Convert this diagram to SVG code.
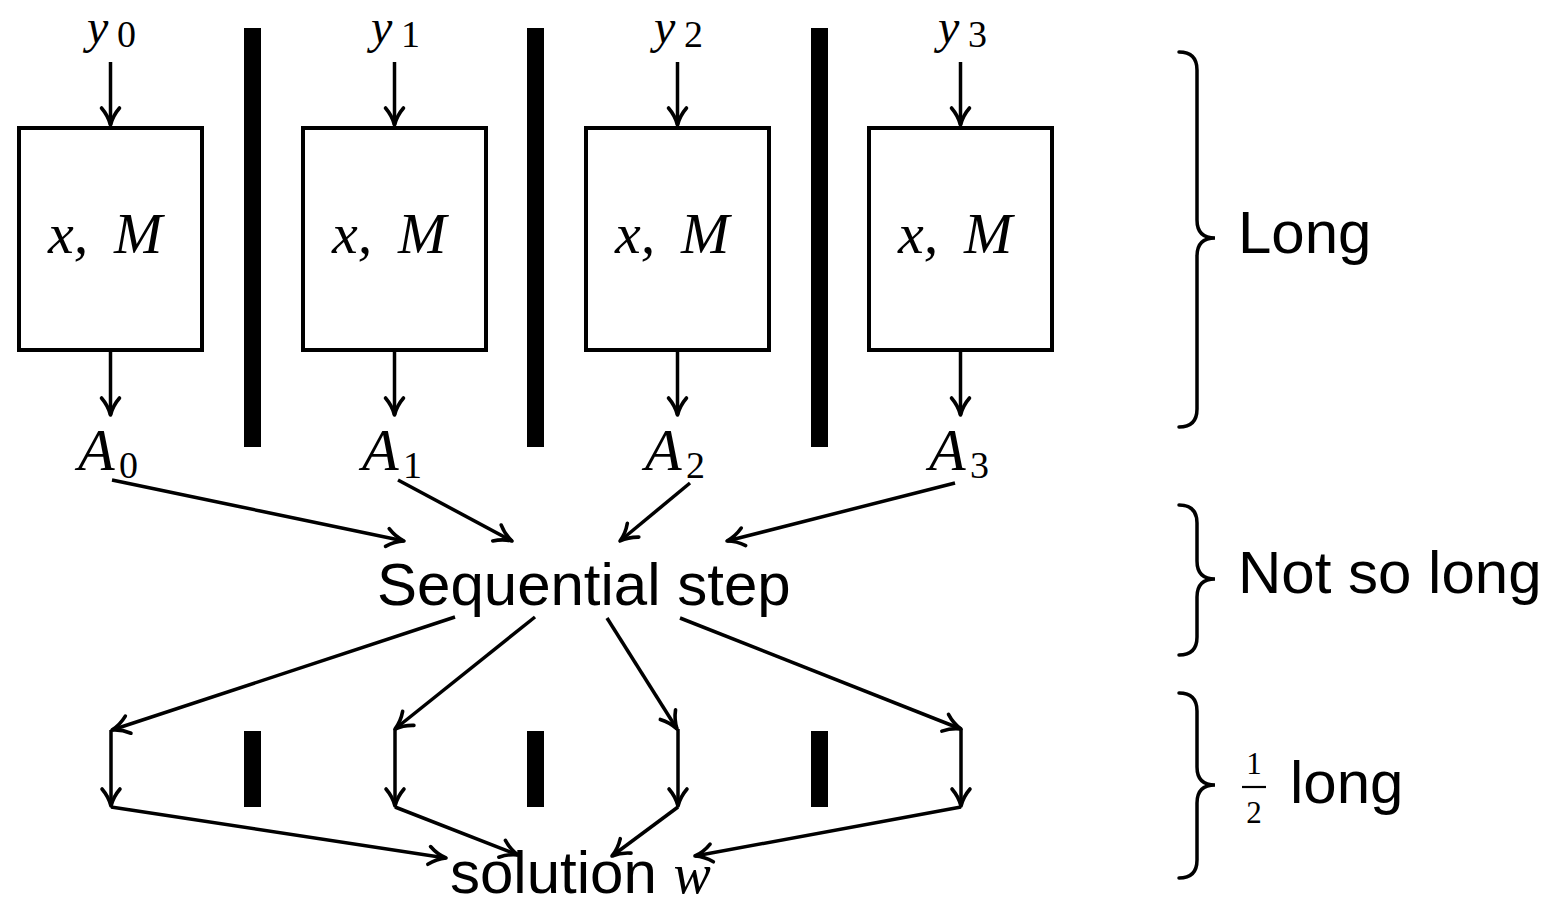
<svg xmlns="http://www.w3.org/2000/svg" width="1562" height="906" viewBox="0 0 1562 906">
<style>
.box{fill:#fff;stroke:#000;stroke-width:4}
.bar{fill:#000}
.c{fill:none;stroke:#000;stroke-width:3.5}
.br{fill:none;stroke:#000;stroke-width:3.5;stroke-linecap:round}
.m{font-family:"Liberation Serif",serif;font-style:italic;fill:#000}
.d{font-family:"Liberation Serif",serif;fill:#000}
.s{font-family:"Liberation Sans",Arial,sans-serif;font-size:60px;fill:#000}
</style>
<defs>
<marker id="ah" markerUnits="userSpaceOnUse" markerWidth="26" markerHeight="26" viewBox="-20 -13 26 26" refX="0" refY="0" orient="auto">
<path d="M-17,-9 C-10,-3 -4,-1 0,0 C-4,1 -10,3 -17,9" fill="none" stroke="#000" stroke-width="3.6" stroke-linecap="round" stroke-linejoin="round"/>
</marker>
</defs>
<rect width="1562" height="906" fill="#fff"/>
<g id="barriers">
<rect class="bar" x="244" y="28" width="17" height="419"/>
<rect class="bar" x="527" y="28" width="17" height="419"/>
<rect class="bar" x="811" y="28" width="17" height="419"/>
<rect class="bar" x="244" y="731" width="17" height="76"/>
<rect class="bar" x="527" y="731" width="17" height="76"/>
<rect class="bar" x="811" y="731" width="17" height="76"/>
</g>
<g id="inputs">
<text class="m" x="87" y="43" font-size="48">y</text><text class="d" x="117" y="47" font-size="38">0</text>
<text class="m" x="371" y="43" font-size="48">y</text><text class="d" x="401" y="47" font-size="38">1</text>
<text class="m" x="654" y="43" font-size="48">y</text><text class="d" x="684" y="47" font-size="38">2</text>
<text class="m" x="938" y="43" font-size="48">y</text><text class="d" x="968" y="47" font-size="38">3</text>
</g>
<g id="box0"><rect class="box" x="19" y="128" width="183" height="222"/><text class="m" x="48" y="253" font-size="58">x,</text><text class="m" x="114" y="253" font-size="58">M</text></g>
<g id="box1"><rect class="box" x="303" y="128" width="183" height="222"/><text class="m" x="332" y="253" font-size="58">x,</text><text class="m" x="398" y="253" font-size="58">M</text></g>
<g id="box2"><rect class="box" x="586" y="128" width="183" height="222"/><text class="m" x="615" y="253" font-size="58">x,</text><text class="m" x="681" y="253" font-size="58">M</text></g>
<g id="box3"><rect class="box" x="869" y="128" width="183" height="222"/><text class="m" x="898" y="253" font-size="58">x,</text><text class="m" x="964" y="253" font-size="58">M</text></g>
<g id="outputs">
<text class="m" x="78" y="470" font-size="60">A</text><text class="d" x="119" y="478" font-size="38">0</text>
<text class="m" x="362" y="470" font-size="60">A</text><text class="d" x="403" y="478" font-size="38">1</text>
<text class="m" x="645" y="470" font-size="60">A</text><text class="d" x="686" y="478" font-size="38">2</text>
<text class="m" x="929" y="470" font-size="60">A</text><text class="d" x="970" y="478" font-size="38">3</text>
</g>
<g id="sequential"><text class="s" x="377" y="605">Sequential step</text></g>
<g id="solution"><text class="s" x="450" y="893" font-size="58">solution <tspan class="m" font-size="56">w</tspan></text></g>
<g id="connectors">
<line class="c" x1="110.5" y1="62" x2="110.5" y2="125" marker-end="url(#ah)"/>
<line class="c" x1="394.5" y1="62" x2="394.5" y2="125" marker-end="url(#ah)"/>
<line class="c" x1="677.5" y1="62" x2="677.5" y2="125" marker-end="url(#ah)"/>
<line class="c" x1="960.5" y1="62" x2="960.5" y2="125" marker-end="url(#ah)"/>
<line class="c" x1="110.5" y1="352" x2="110.5" y2="415" marker-end="url(#ah)"/>
<line class="c" x1="394.5" y1="352" x2="394.5" y2="415" marker-end="url(#ah)"/>
<line class="c" x1="677.5" y1="352" x2="677.5" y2="415" marker-end="url(#ah)"/>
<line class="c" x1="960.5" y1="352" x2="960.5" y2="415" marker-end="url(#ah)"/>
<line class="c" x1="112" y1="480" x2="404" y2="541" marker-end="url(#ah)"/>
<line class="c" x1="398" y1="480" x2="512" y2="541" marker-end="url(#ah)"/>
<line class="c" x1="690" y1="483" x2="620" y2="541" marker-end="url(#ah)"/>
<line class="c" x1="955" y1="483" x2="727" y2="541" marker-end="url(#ah)"/>
<line class="c" x1="455" y1="617" x2="112" y2="730" marker-end="url(#ah)"/>
<line class="c" x1="535" y1="617" x2="395" y2="729" marker-end="url(#ah)"/>
<line class="c" x1="607" y1="618" x2="677" y2="729" marker-end="url(#ah)"/>
<line class="c" x1="680" y1="618" x2="961" y2="729" marker-end="url(#ah)"/>
<line class="c" x1="111" y1="730" x2="111" y2="806" marker-end="url(#ah)"/>
<line class="c" x1="395" y1="729" x2="395" y2="806" marker-end="url(#ah)"/>
<line class="c" x1="678" y1="729" x2="678" y2="806" marker-end="url(#ah)"/>
<line class="c" x1="961" y1="729" x2="961" y2="806" marker-end="url(#ah)"/>
<line class="c" x1="111" y1="807" x2="446" y2="858" marker-end="url(#ah)"/>
<line class="c" x1="395" y1="807" x2="518" y2="855" marker-end="url(#ah)"/>
<line class="c" x1="678" y1="807" x2="612" y2="856" marker-end="url(#ah)"/>
<line class="c" x1="961" y1="807" x2="695" y2="856" marker-end="url(#ah)"/>
</g>
<g id="brace-long">
<path class="br" d="M1179,52 Q1197,52 1197,70 L1197,220 Q1197,238 1215,238 Q1197,238 1197,256 L1197,409 Q1197,427 1179,427"/>
<text class="s" x="1238" y="253">Long</text>
</g>
<g id="brace-notsolong">
<path class="br" d="M1179,505 Q1197,505 1197,523 L1197,561 Q1197,579 1215,579 Q1197,579 1197,597 L1197,637 Q1197,655 1179,655"/>
<text class="s" x="1238" y="593">Not so long</text>
</g>
<g id="brace-half">
<path class="br" d="M1179,693 Q1197,693 1197,711 L1197,767 Q1197,785 1215,785 Q1197,785 1197,803 L1197,860 Q1197,878 1179,878"/>
<text class="d" x="1254" y="774" font-size="31" text-anchor="middle">1</text>
<line x1="1242" y1="787" x2="1266" y2="787" stroke="#000" stroke-width="2.2"/>
<text class="d" x="1254" y="823" font-size="31" text-anchor="middle">2</text>
<text class="s" x="1290" y="803">long</text>
</g>
</svg>
